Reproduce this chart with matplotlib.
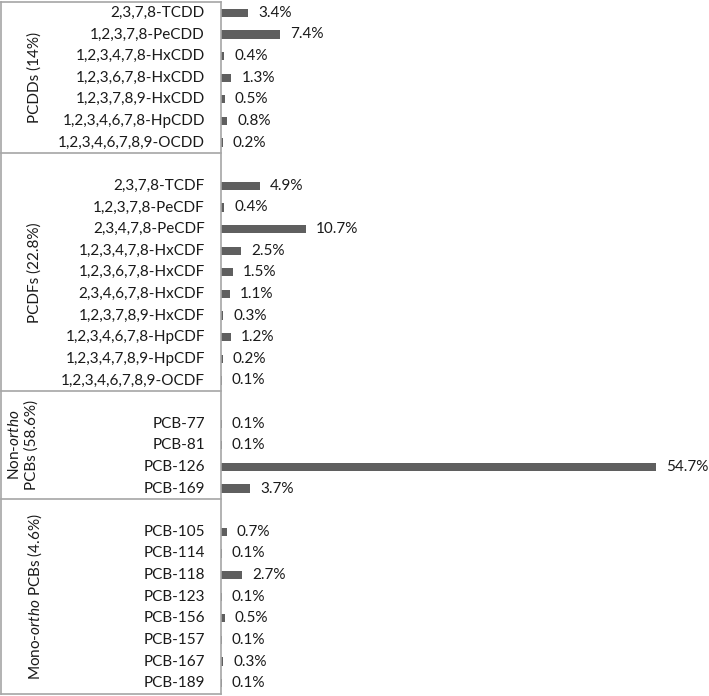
import matplotlib
matplotlib.use("Agg")
import matplotlib.pyplot as plt
from matplotlib.transforms import blended_transform_factory

plt.rcParams['font.family'] = ['Lato', 'DejaVu Sans']
plt.rcParams['mathtext.fontset'] = 'custom'
plt.rcParams['mathtext.rm'] = 'Lato'
plt.rcParams['mathtext.it'] = 'Lato:italic'

groups = ["PCDDs (14%)", "PCDFs (22.8%)", "Non-$\\it{ortho}$\nPCBs (58.6%)", "Mono-$\\it{ortho}$ PCBs (4.6%)"]
pcdd_names = ["2,3,7,8-TCDD", "1,2,3,7,8-PeCDD", "1,2,3,4,7,8-HxCDD", "1,2,3,6,7,8-HxCDD",
              "1,2,3,7,8,9-HxCDD", "1,2,3,4,6,7,8-HpCDD", "1,2,3,4,6,7,8,9-OCDD"]
pcdd_vals = [3.4, 7.4, 0.4, 1.3, 0.5, 0.8, 0.2]
pcdf_names = ["2,3,7,8-TCDF", "1,2,3,7,8-PeCDF", "2,3,4,7,8-PeCDF", "1,2,3,4,7,8-HxCDF",
              "1,2,3,6,7,8-HxCDF", "2,3,4,6,7,8-HxCDF", "1,2,3,7,8,9-HxCDF",
              "1,2,3,4,6,7,8-HpCDF", "1,2,3,4,7,8,9-HpCDF", "1,2,3,4,6,7,8,9-OCDF"]
pcdf_vals = [4.9, 0.4, 10.7, 2.5, 1.5, 1.1, 0.3, 1.2, 0.2, 0.1]
nono_names = ["PCB-77", "PCB-81", "PCB-126", "PCB-169"]
nono_vals = [0.1, 0.1, 54.7, 3.7]
mono_names = ["PCB-105", "PCB-114", "PCB-118", "PCB-123", "PCB-156", "PCB-157", "PCB-167", "PCB-189"]
mono_vals = [0.7, 0.1, 2.7, 0.1, 0.5, 0.1, 0.3, 0.1]

group_names = [pcdd_names, pcdf_names, nono_names, mono_names]
group_vals = [pcdd_vals, pcdf_vals, nono_vals, mono_vals]

labels, values, positions = [], [], []
group_spans = []
row = 0
for gi, (names, vals) in enumerate(zip(group_names, group_vals)):
    start = row
    if gi > 0:
        row += 1
    for n, v in zip(names, vals):
        labels.append(n); values.append(v); positions.append(row)
        row += 1
    group_spans.append((start, row))
nrows = row

W, H = 709, 696
fig = plt.figure(figsize=(W/100, H/100), dpi=100)
ax_left = 221 / W
ax = fig.add_axes([ax_left, 2 / H, 1 - ax_left, 692 / H])
ax.set_xlim(0, 61.4)
ax.set_ylim(nrows - 0.5, -0.5)

bar_color = '#5f5f5f'
text_color = '#1a1a1a'
line_color = '#a6a6a6'
fs = 11

ax.barh(positions, values, height=0.38, color=bar_color)
for p, v in zip(positions, values):
    ax.annotate(f"{v:.1f}%", (v, p), xytext=(7.2, 0), textcoords='offset points',
                va='center', ha='left', fontsize=fs, color=text_color)

ax.set_axis_off()
tr = blended_transform_factory(ax.transAxes, ax.transData)
ax_w_px = W - 221
x_fig_left = -220 / ax_w_px
x_tick = -16 / ax_w_px

for p, lab in zip(positions, labels):
    ax.text(x_tick, p, lab, transform=tr, ha='right', va='center', fontsize=fs, color=text_color)

ax.plot([0, 0], [-0.5, nrows - 0.5], transform=tr, color=line_color, lw=1.2, clip_on=False)
ax.plot([x_fig_left, 0], [-0.5, -0.5], transform=tr, color=line_color, lw=1.2, clip_on=False)
ax.plot([x_fig_left, x_fig_left], [-0.5, nrows - 0.5], transform=tr, color=line_color, lw=1.2, clip_on=False)
for (s, e) in group_spans:
    ax.plot([x_fig_left, 0], [e - 0.5, e - 0.5], transform=tr, color=line_color, lw=1.2, clip_on=False)

group_label_x = [35, 35, 23, 35]      # px from left edge of figure
for gname, (s, e), gxp in zip(groups, group_spans, group_label_x):
    yc = (s + e - 1) / 2
    gx = (gxp - 221) / ax_w_px
    ax.text(gx, yc, gname, transform=tr, rotation=90, ha='center', va='center',
            fontsize=fs, color=text_color, multialignment='center', linespacing=1.25)

fig.savefig("out.png", dpi=100)
